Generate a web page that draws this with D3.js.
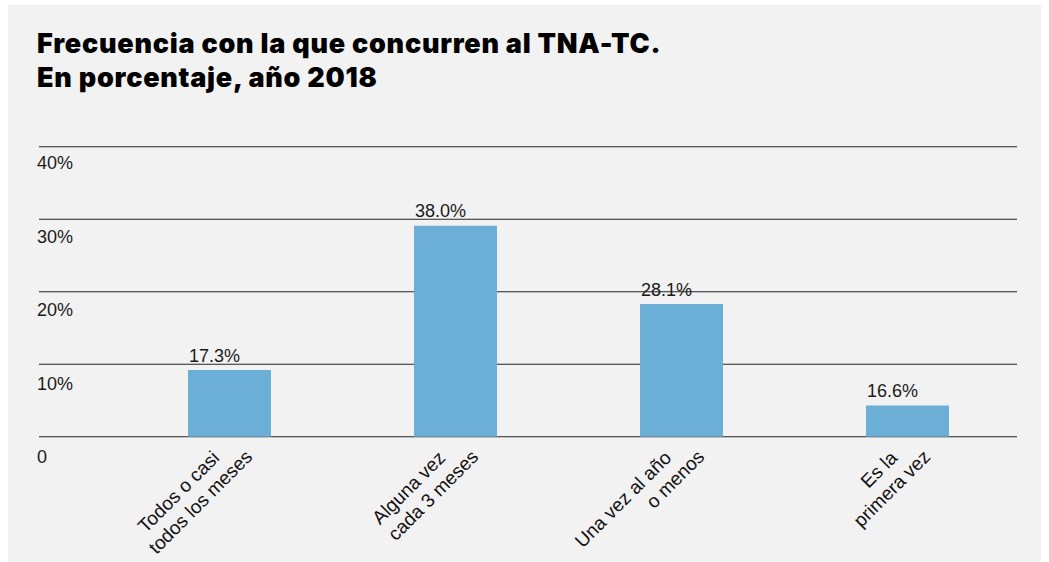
<!DOCTYPE html>
<html>
<head>
<meta charset="utf-8">
<script src="https://cdn.jsdelivr.net/npm/d3@7"></script>
<style>
  html, body { margin: 0; padding: 0; background: #ffffff; }
  svg { display: block; }
</style>
</head>
<body>
<svg id="chart" width="1049" height="562"></svg>
<script>
// ---- data ----
const titleLines = ["Frecuencia con la que concurren al TNA-TC.", "En porcentaje, año 2018"];
const categories = ["Todos o casi|todos los meses", "Alguna vez|cada 3 meses", "Una vez al año|o menos", "Es la|primera vez"];
const barValues = [9.2, 29.1, 18.3, 4.3];          // bar lengths as drawn in the picture (axis units, %)
const valueLabels = ["17.3%", "38.0%", "28.1%", "16.6%"];
const tickValues = [0, 10, 20, 30, 40];
const tickLabels = ["0", "10%", "20%", "30%", "40%"];

// ---- layout ----
const svg = d3.select("#chart");
const W = 1049, H = 562;

svg.append("rect").attr("x", 8).attr("y", 5).attr("width", 1033).attr("height", H - 5).attr("fill", "#f2f2f2");

// title
svg.append("g").selectAll("text").data(titleLines).join("text")
  .attr("x", 37).attr("y", (d, i) => 53 + i * 34)
  .attr("font-family", "Inter, 'Noto Sans', sans-serif")
  .attr("font-weight", 900)
  .attr("font-size", 27)
  .attr("letter-spacing", 0.75)
  .attr("fill", "#000")
  .text(d => d);

const y = d3.scaleLinear().domain([0, 40]).range([436.7, 146.7]);
const yLabel = d3.scaleLinear().domain([0, 40]).range([463, 169]);
const x = d3.scaleBand().domain(categories).range([116.5, 1020.5]).paddingInner(0.633).paddingOuter(0.3165);

// gridlines
svg.append("g").selectAll("line").data(tickValues).join("line")
  .attr("x1", 39).attr("x2", 1017)
  .attr("y1", d => y(d)).attr("y2", d => y(d))
  .attr("stroke", "#262626").attr("stroke-width", 1.1);

// tick labels
svg.append("g").selectAll("text").data(tickValues).join("text")
  .attr("x", 37).attr("y", d => yLabel(d))
  .attr("font-family", "'Liberation Sans', Arial, sans-serif")
  .attr("font-size", 18).attr("fill", "#1a1a1a")
  .text((d, i) => tickLabels[i]);

// bars
svg.append("g").selectAll("rect").data(categories).join("rect")
  .attr("x", d => x(d)).attr("width", x.bandwidth())
  .attr("y", (d, i) => y(barValues[i]))
  .attr("height", (d, i) => y(0) - y(barValues[i]))
  .attr("fill", "#6baed6");

// value labels
svg.append("g").selectAll("text").data(categories).join("text")
  .attr("x", d => x(d) + 1)
  .attr("y", (d, i) => y(barValues[i]) - 8.5)
  .attr("font-family", "'Liberation Sans', Arial, sans-serif")
  .attr("font-size", 18).attr("fill", "#1a1a1a")
  .text((d, i) => valueLabels[i]);

// category labels (rotated, two lines)
const catG = svg.append("g");
categories.forEach(c => {
  const cx = x(c) + x.bandwidth() / 2;
  c.split("|").forEach((line, i) => {
    const px = cx - 9 + i * 33;
    const py = 459 - i * 1;
    catG.append("text")
      .attr("transform", `translate(${px},${py}) rotate(-45)`)
      .attr("text-anchor", "end")
      .attr("font-family", "'Liberation Sans', Arial, sans-serif")
      .attr("font-size", 19).attr("fill", "#111")
      .text(line);
  });
});
</script>
</body>
</html>
